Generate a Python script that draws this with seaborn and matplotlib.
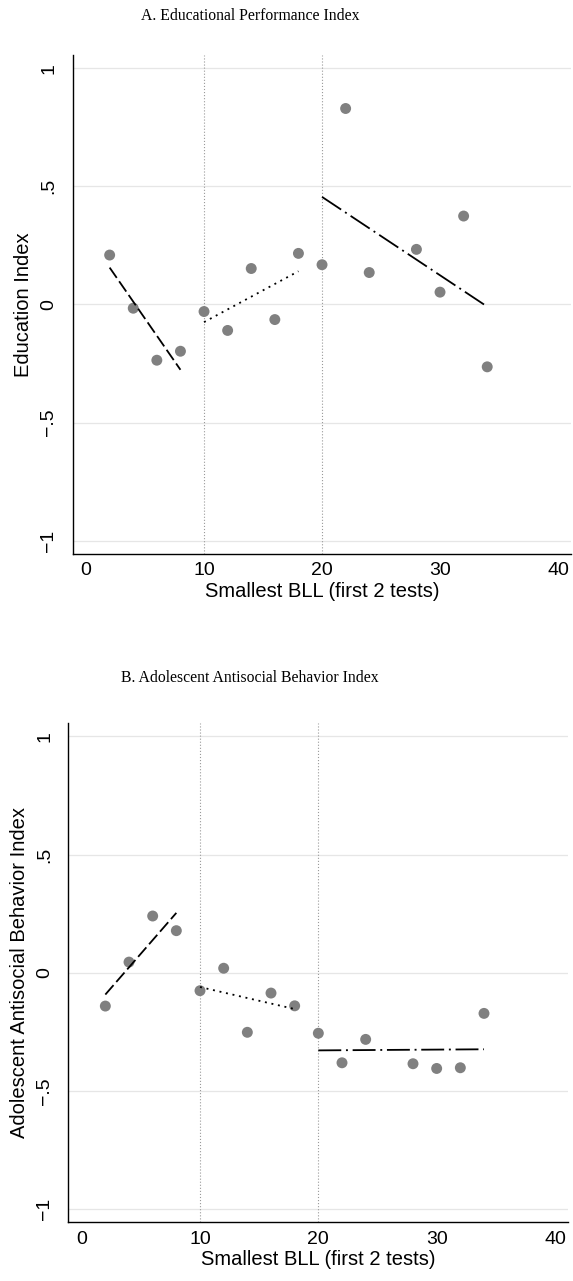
import numpy as np
import pandas as pd
import matplotlib
matplotlib.use("Agg")
import matplotlib.pyplot as plt
import seaborn as sns

# --- data ---
bll = [2, 4, 6, 8, 10, 12, 14, 16, 18, 20, 22, 24, 28, 30, 32, 34]
education = [0.209, -0.016, -0.236, -0.198, -0.030, -0.110, 0.152, -0.064,
             0.216, 0.168, 0.829, 0.135, 0.233, 0.052, 0.374, -0.264]
antisocial = [-0.141, 0.045, 0.240, 0.178, -0.076, 0.019, -0.252, -0.086,
              -0.140, -0.256, -0.381, -0.282, -0.385, -0.405, -0.402, -0.172]
cutoffs = [10, 20]
yticks = [-1, -0.5, 0, 0.5, 1]
ytick_labels = ["\u22121", "\u2212.5", "0", ".5", "1"]
xticks = [0, 10, 20, 30, 40]

titles = ["A. Educational Performance Index", "B. Adolescent Antisocial Behavior Index"]
ylabels = ["Education Index", "Adolescent Antisocial Behavior Index"]
xlabel = "Smallest BLL (first 2 tests)"

df = pd.DataFrame({"bll": bll, "edu": education, "anti": antisocial})
df["bin"] = np.digitize(df["bll"], cutoffs)

sns.set_style("white")
plt.rcParams["font.family"] = ["Liberation Sans", "DejaVu Sans"]
plt.rcParams["lines.scale_dashes"] = False
for k in ["text.color", "axes.labelcolor", "xtick.color", "ytick.color"]:
    plt.rcParams[k] = "black"

# dash patterns for the three segment fits (pt)
seg_styles = [(0, (9, 3)), (0, (1.4, 3.4)), (0, (16.5, 3.4, 1.4, 3.4))]

fig = plt.figure(figsize=(5.73, 12.81), dpi=100)
ax_a = fig.add_axes([0.1269, 0.5675, 0.8696, 0.3895])
ax_b = fig.add_axes([0.1192, 0.0458, 0.8721, 0.3895])

for ax, col, ttl, ylab, ty in [(ax_a, "edu", titles[0], ylabels[0], 16.5),
                               (ax_b, "anti", titles[1], ylabels[1], 678)]:
    for y in yticks:
        ax.axhline(y, color="#e6e6e6", lw=0.9, zorder=0)
    for c in cutoffs:
        ax.axvline(c, color="#9a9a9a", lw=0.8, ls=(0, (0.8, 1.4)), zorder=1)
    sns.scatterplot(data=df, x="bll", y=col, ax=ax, color="#808080",
                    s=62, edgecolor="none", zorder=3, legend=False)
    for b, style in zip(range(3), seg_styles):
        sub = df[df["bin"] == b]
        sns.regplot(data=sub, x="bll", y=col, ax=ax, scatter=False, ci=None,
                    truncate=True,
                    line_kws={"color": "black", "lw": 1.3, "ls": style, "zorder": 4})
    ax.set_xlim(-1.13, 41.1)
    ax.set_ylim(-1.056, 1.055)
    ax.set_xticks(xticks)
    ax.set_xticklabels([str(x) for x in xticks], fontsize=14)
    ax.set_yticks(yticks)
    ax.set_yticklabels(ytick_labels, fontsize=14, rotation=90, va="center")
    ax.tick_params(axis="both", direction="out", length=5, width=0.9, color="black")
    ax.tick_params(axis="y", pad=6)
    ax.tick_params(axis="x", pad=1)
    ax.set_xlabel(xlabel, fontsize=14.5, labelpad=2)
    ax.set_ylabel(ylab, fontsize=14.5, labelpad=5)
    for s in ["top", "right"]:
        ax.spines[s].set_visible(False)
    for s in ["left", "bottom"]:
        ax.spines[s].set_color("black")
        ax.spines[s].set_linewidth(1.0)
    fig.text(250 / 573, 1 - ty / 1281, ttl, ha="center", va="center",
             fontsize=11.3, family=["Liberation Serif", "DejaVu Serif"])

fig.savefig("out.png", dpi=100)
